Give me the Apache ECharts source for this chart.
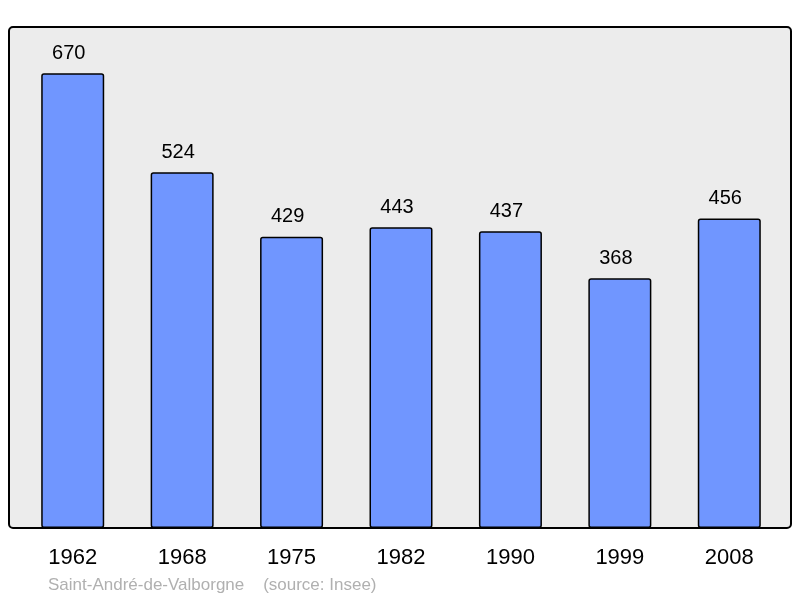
<!DOCTYPE html>
<html>
<head>
<meta charset="utf-8">
<style>
    html, body { margin: 0; padding: 0; background: #fff; }
    #chart { width: 800px; height: 598px; }
</style>
<script src="https://cdn.jsdelivr.net/npm/echarts@6/dist/echarts.min.js"></script>
</head>
<body>
<div id="chart"></div>
<script type="text/javascript">
    // population by census year
    var years = ['1962', '1968', '1975', '1982', '1990', '1999', '2008'];
    var population = [670, 524, 429, 443, 437, 368, 456];
    var placeName = 'Saint-André-de-Valborgne';
    var sourceText = '(source: Insee)';

    var chart = echarts.init(document.getElementById('chart'));
    var fontFamily = '"Liberation Sans", Arial, sans-serif';

    chart.setOption({
        animation: false,
        backgroundColor: '#fff',
        graphic: [
            {
                type: 'rect',
                z: -10,
                shape: { x: 9, y: 27, width: 782, height: 501, r: 4 },
                style: { fill: '#ececec', stroke: '#000', lineWidth: 2 }
            },
            {
                type: 'text',
                left: 48,
                top: 577,
                style: {
                    text: placeName + '    ' + sourceText,
                    fill: '#b0b0b0',
                    font: '17px ' + fontFamily
                }
            }
        ],
        grid: { left: 18, right: 16, top: 27, bottom: 70 },
        xAxis: {
            type: 'category',
            data: years,
            axisLine: { show: false },
            axisTick: { show: false },
            axisLabel: { color: '#000', fontSize: 22, fontFamily: fontFamily, margin: 19 }
        },
        yAxis: {
            type: 'value',
            min: 0,
            max: 738,
            show: false,
            splitLine: { show: false }
        },
        series: [{
            type: 'bar',
            data: population,
            barWidth: 63,
            itemStyle: {
                color: '#7096ff',
                borderColor: '#000',
                borderWidth: 1.5,
                borderRadius: 2
            },
            label: {
                show: true,
                position: 'top',
                distance: 10,
                offset: [-4, 0],
                color: '#000',
                fontSize: 20,
                fontFamily: fontFamily
            }
        }]
    });
</script>
</body>
</html>
